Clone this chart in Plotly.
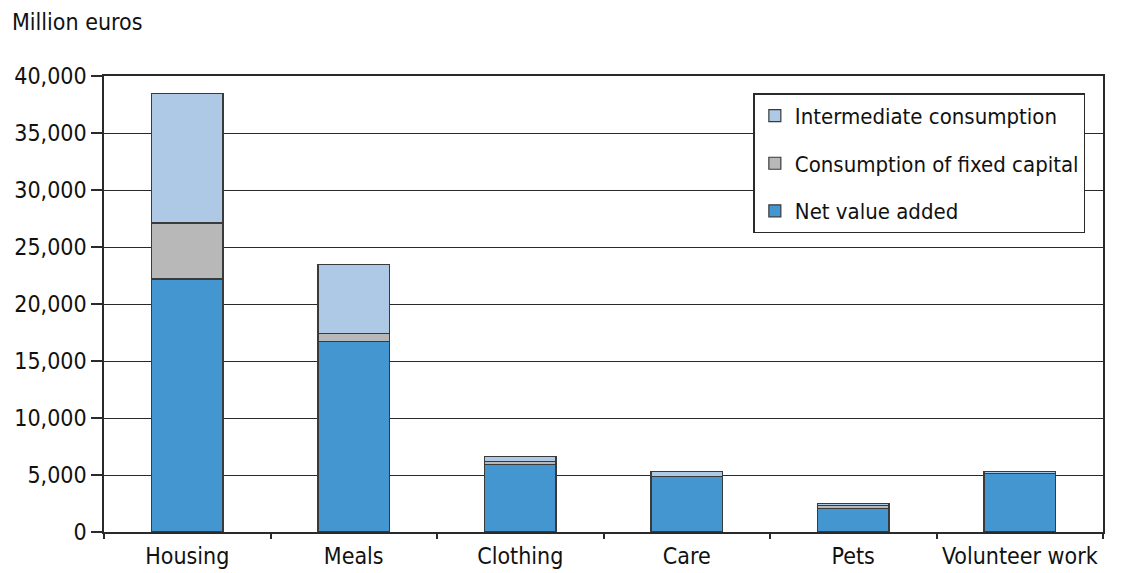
import plotly.graph_objects as go

categories = ["Housing", "Meals", "Clothing", "Care", "Pets", "Volunteer work"]
net_value_added = [22200, 16700, 5900, 4850, 2050, 5150]
fixed_capital = [4900, 700, 300, 50, 250, 0]
intermediate = [11400, 6100, 400, 400, 200, 130]

y_ticks = [0, 5000, 10000, 15000, 20000, 25000, 30000, 35000, 40000]
y_tick_labels = ["0", "5,000", "10,000", "15,000", "20,000", "25,000", "30,000", "35,000", "40,000"]

FONT = "DejaVu Sans Condensed, Liberation Sans Narrow, sans-serif"
FS = 23
LINE = "#2a2a2a"
OUT = "#3a3a3a"

fig = go.Figure()
series = [
    ("Net value added", net_value_added, "#4396cf", 3),
    ("Consumption of fixed capital", fixed_capital, "#b8b8b8", 2),
    ("Intermediate consumption", intermediate, "#adc9e5", 1),
]
for name, vals, col, rank in series:
    fig.add_trace(go.Bar(
        x=categories, y=vals, name=name, legendgroup=name, legendrank=rank,
        marker=dict(color=col, line=dict(color=OUT, width=1.2)),
        width=0.43,
    ))

fig.update_layout(
    width=1134, height=573,
    barmode="stack",
    plot_bgcolor="white", paper_bgcolor="white",
    margin=dict(l=104, r=31, t=76, b=41, autoexpand=False),
    font=dict(family=FONT, size=FS, color="#111"),
    showlegend=True,
    legend=dict(
        x=0.65, y=0.962, xanchor="left", yanchor="top",
        traceorder="grouped", tracegroupgap=16,
        bordercolor=LINE, borderwidth=1.5, bgcolor="white",
        font=dict(family=FONT, size=22, color="#111"),
    ),
    annotations=[dict(
        text="Million euros", x=(10 - 104) / 999, y=(532 - 22) / 456,
        xref="paper", yref="paper", xanchor="left", yanchor="middle",
        showarrow=False, font=dict(family=FONT, size=FS, color="#111"),
    )],
)

fig.update_xaxes(
    showline=True, linecolor=LINE, linewidth=1.5, mirror=True,
    ticks="outside", tickson="boundaries", ticklen=5, tickcolor=LINE, tickwidth=1.5,
    showgrid=False, tickangle=0, automargin=False, ticklabelstandoff=3,
    tickfont=dict(family=FONT, size=FS, color="#111"),
)
fig.update_yaxes(
    range=[0, 40000], tickvals=y_ticks, ticktext=y_tick_labels,
    showline=True, linecolor=LINE, linewidth=1.5, mirror=True,
    ticks="outside", ticklen=11, tickcolor=LINE, tickwidth=1.5,
    showgrid=True, gridcolor=LINE, gridwidth=1.2, automargin=False,
    tickfont=dict(family=FONT, size=FS, color="#111"),
    zeroline=False,
)

fig.write_html("out.html")
